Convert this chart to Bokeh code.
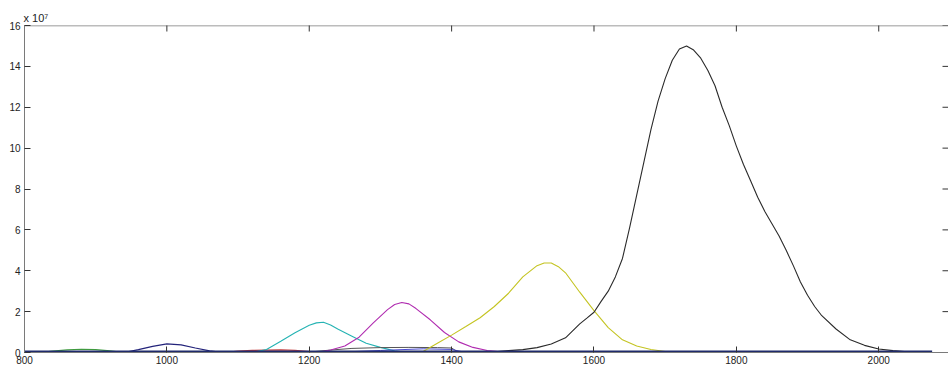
import math
from bokeh.plotting import figure
from bokeh.models import Range1d, LinearAxis, FixedTicker
from bokeh.embed import file_html
from bokeh.resources import INLINE

# values in units of 1e7
green_x = [820, 840, 860, 880, 900, 920, 940]
green_y = [0.0, 0.07, 0.13, 0.16, 0.14, 0.08, 0.0]

navy_x = [940, 960, 980, 1000, 1020, 1040, 1060, 1080]
navy_y = [0.0, 0.14, 0.30, 0.42, 0.37, 0.22, 0.08, 0.0]

red_x = [1080, 1100, 1120, 1140, 1160, 1180, 1200, 1220]
red_y = [0.0, 0.07, 0.10, 0.12, 0.13, 0.10, 0.05, 0.0]

cyan_x = [1120, 1140, 1160, 1180, 1200, 1210, 1220, 1230, 1240, 1260, 1280, 1300, 1320, 1340]
cyan_y = [0.0, 0.15, 0.55, 0.97, 1.33, 1.45, 1.48, 1.35, 1.15, 0.80, 0.45, 0.25, 0.08, 0.0]

magenta_x = [1210, 1230, 1250, 1270, 1290, 1310, 1320, 1330, 1340, 1350, 1370, 1390, 1410, 1430, 1450, 1470, 1490]
magenta_y = [0.0, 0.12, 0.32, 0.75, 1.45, 2.10, 2.35, 2.45, 2.38, 2.15, 1.60, 0.98, 0.52, 0.25, 0.10, 0.03, 0.0]

yellow_x = [1360, 1380, 1400, 1420, 1440, 1460, 1480, 1500, 1520, 1530, 1540, 1550, 1560, 1580, 1600, 1620, 1640, 1660, 1680, 1700, 1710]
yellow_y = [0.05, 0.45, 0.85, 1.27, 1.70, 2.25, 2.90, 3.70, 4.25, 4.38, 4.38, 4.20, 3.90, 2.95, 2.05, 1.22, 0.62, 0.32, 0.15, 0.05, 0.0]

black_x = [1440, 1460, 1480, 1500, 1520, 1540, 1560, 1580, 1590, 1600, 1610, 1620, 1630, 1640,
           1650, 1660, 1670, 1680, 1690, 1700, 1710, 1720, 1730, 1740, 1750, 1760, 1770, 1780,
           1790, 1800, 1810, 1820, 1830, 1840, 1850, 1860, 1870, 1880, 1890, 1900, 1910, 1920,
           1940, 1960, 1980, 2000, 2020, 2040, 2060, 2080]
black_y = [0.0, 0.04, 0.09, 0.14, 0.24, 0.42, 0.72, 1.40, 1.68, 1.97, 2.50, 3.00, 3.70, 4.60,
           6.10, 7.70, 9.30, 10.90, 12.30, 13.40, 14.30, 14.85, 15.00, 14.80, 14.40, 13.80, 13.05, 12.00,
           11.10, 10.10, 9.20, 8.40, 7.60, 6.90, 6.30, 5.70, 5.00, 4.25, 3.45, 2.80, 2.25, 1.80,
           1.15, 0.62, 0.35, 0.17, 0.09, 0.04, 0.01, 0.0]

grey_x = [1200, 1230, 1260, 1300, 1340, 1380, 1400, 1410]
grey_y = [0.02, 0.12, 0.20, 0.24, 0.25, 0.24, 0.22, 0.0]

blue_x = [1230, 1300, 1360, 1400, 1420]
blue_y = [0.0, 0.10, 0.18, 0.15, 0.0]

base_x = [800, 2075]
base_y = [0.0, 0.0]

x_ticks = [800, 1000, 1200, 1400, 1600, 1800, 2000]
y_ticks = [0, 2, 4, 6, 8, 10, 12, 14, 16]
X_MIN, X_MAX = 800, 2098
Y_MIN, Y_MAX = 0, 16

FONT = "Liberation Sans"

p = figure(width=948, height=369, output_backend="svg", toolbar_location=None,
           x_range=Range1d(X_MIN, X_MAX), y_range=Range1d(Y_MIN, Y_MAX),
           min_border_left=24, min_border_right=0, min_border_top=25, min_border_bottom=17,
           x_axis_location=None, y_axis_location=None,
           title="x 10\u2077")
p.grid.visible = False
p.outline_line_color = None
p.background_fill_color = "white"
p.title.text_font = FONT
p.title.text_font_size = "11px"
p.title.text_font_style = "normal"
p.title.text_color = "#222222"
p.title.align = "left"
p.title.offset = -1
p.title.standoff = 4

def mk_axis(ticks):
    ax = LinearAxis(ticker=FixedTicker(ticks=ticks))
    ax.axis_line_color = "#7a7a7a"
    ax.major_tick_line_color = "#333333"
    ax.major_tick_in = 6
    ax.major_tick_out = 0
    ax.minor_tick_line_color = None
    ax.major_label_text_font = FONT
    ax.major_label_text_font_size = "10px"
    ax.major_label_text_color = "#222222"
    ax.major_label_standoff = 3
    return ax

bottom = mk_axis(x_ticks)
left = mk_axis(y_ticks)
left.major_label_standoff = 4
p.add_layout(bottom, "below")
p.add_layout(left, "left")

# box: top line and inward ticks on top / right (half of each dash is clipped by the frame)
p.line([X_MIN, X_MAX], [Y_MAX, Y_MAX], line_color="#7a7a7a", line_width=1.5)
p.scatter(x_ticks, [Y_MAX] * len(x_ticks), marker="dash", angle=math.pi / 2, size=12,
          line_color="#333333", line_width=1)
p.scatter([X_MAX] * len(y_ticks), y_ticks, marker="dash", size=12,
          line_color="#333333", line_width=1)

p.line(green_x, green_y, line_color="#3f9a3f", line_width=1.2)
p.line(navy_x, navy_y, line_color="#23237a", line_width=1.2)
p.line(red_x, red_y, line_color="#c23b3b", line_width=1.2)
p.line(cyan_x, cyan_y, line_color="#25b3b3", line_width=1.1)
p.line(grey_x, grey_y, line_color="#555555", line_width=1)
p.line(blue_x, blue_y, line_color="#4a4ad0", line_width=1)
p.line(magenta_x, magenta_y, line_color="#b02cb0", line_width=1.1)
p.line(yellow_x, yellow_y, line_color="#c4c422", line_width=1.1)
p.line(black_x, black_y, line_color="#2a2a2a", line_width=1.1)
p.line(base_x, base_y, line_color="#1f2a6b", line_width=4)

open("out.html", "w").write(file_html(p, INLINE))
